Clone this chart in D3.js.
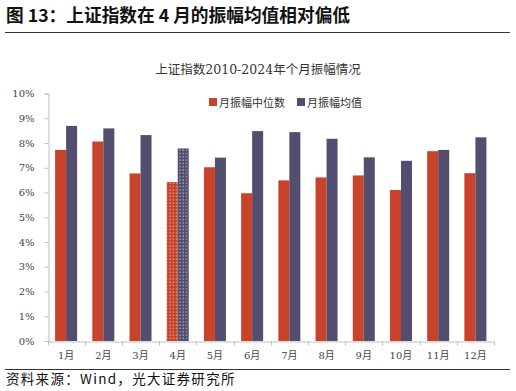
<!DOCTYPE html>
<html><head><meta charset="utf-8">
<script src="https://cdn.jsdelivr.net/npm/d3@7"></script>
<style>
html,body{margin:0;padding:0;background:#fff;}
svg{display:block;}
</style></head>
<body>
<script>
const months = ["1月","2月","3月","4月","5月","6月","7月","8月","9月","10月","11月","12月"];
const medianVals = [7.72, 8.06, 6.77, 6.42, 7.02, 5.97, 6.49, 6.61, 6.69, 6.10, 7.67, 6.78];
const meanVals   = [8.69, 8.59, 8.32, 7.78, 7.41, 8.48, 8.44, 8.17, 7.42, 7.28, 7.72, 8.23];
const seriesNames = ["月振幅中位数","月振幅均值"];
const yTicks = [0,1,2,3,4,5,6,7,8,9,10];
const colors = ["#C8432A","#534E6F"];
const highlightMonth = "4月";

const W=516,H=391;
const svg=d3.select("body").append("svg").attr("width",W).attr("height",H);
const defs=svg.append("defs");
colors.forEach((c,i)=>{
  const p=defs.append("pattern").attr("id","dots"+i).attr("patternUnits","userSpaceOnUse")
    .attr("width",3.3).attr("height",3.3);
  p.append("rect").attr("width",3.3).attr("height",3.3).attr("fill",c);
  p.append("rect").attr("x",1.2).attr("y",1.2).attr("width",1.1).attr("height",1.1).attr("fill","#e8e6ee").attr("opacity",0.85);
});

// Header
svg.append("text").attr("x",6).attr("y",22).text("图 13：上证指数在 4 月的振幅均值相对偏低")
  .attr("font-family","'Noto Sans CJK SC',sans-serif").attr("font-weight","bold").attr("font-size",17.7).attr("fill","#111");
svg.append("line").attr("x1",5).attr("x2",510).attr("y1",32.5).attr("y2",32.5).attr("stroke","#333").attr("stroke-width",1);
svg.append("line").attr("x1",5).attr("x2",510).attr("y1",369.5).attr("y2",369.5).attr("stroke","#333").attr("stroke-width",1);
svg.append("text").attr("x",6).attr("y",384).text("资料来源：Wind，光大证券研究所")
  .attr("font-family","'Noto Sans CJK SC',sans-serif").attr("font-size",13.5).attr("letter-spacing",1.3).attr("fill","#111");

const serif="'DejaVu Serif','Liberation Serif','Noto Sans CJK SC',serif";
svg.append("text").attr("x",258).attr("y",74).attr("text-anchor","middle").text("上证指数2010-2024年个月振幅情况")
  .attr("font-family",serif).attr("font-size",12.5).attr("fill","#333");

const x0=d3.scaleBand().domain(months).range([47.5,494]).paddingInner(0).paddingOuter(0);
const x1=d3.scaleBand().domain([0,1]).range([0,x0.bandwidth()]).paddingInner(0).paddingOuter(0.69);
const y=d3.scaleLinear().domain([0,10]).range([341,93.5]);

// axes
const gy=svg.append("g").attr("transform","translate(48.5,0)")
  .call(d3.axisLeft(y).tickValues(yTicks).tickFormat(d=>d+"%").tickSize(4).tickPadding(10));
gy.select(".domain").attr("stroke","#BFBFBF");
gy.selectAll(".tick line").attr("stroke","#BFBFBF");
gy.selectAll("text").attr("font-family",serif).attr("font-size",10).attr("fill","#444");

const gx=svg.append("g").attr("transform","translate(0,341.5)")
  .call(d3.axisBottom(x0).tickSize(0).tickPadding(10));
gx.select(".domain").attr("stroke","#BFBFBF");
gx.selectAll("text").attr("font-family",serif).attr("font-size",10).attr("fill","#444");
gx.selectAll(".bt").data(months.concat(["end"])).enter().append("line")
  .attr("x1",(d,i)=>Math.round(i<12?x0(d):x0.range()[1])+0.5).attr("x2",(d,i)=>Math.round(i<12?x0(d):x0.range()[1])+0.5)
  .attr("y1",0).attr("y2",4).attr("stroke","#BFBFBF");

// bars
const data=months.map((m,i)=>({m,v:[medianVals[i],meanVals[i]]}));
const g=svg.append("g");
data.forEach(d=>{
  d.v.forEach((v,k)=>{
    g.append("rect").attr("x",x0(d.m)+x1(k)).attr("width",x1.bandwidth())
      .attr("y",y(v)).attr("height",y(0)-y(v))
      .attr("fill",d.m===highlightMonth?`url(#dots${k})`:colors[k]);
  });
});

// legend
const leg=svg.append("g");
const lx=[209,297];
seriesNames.forEach((n,i)=>{
  leg.append("rect").attr("x",lx[i]).attr("y",98).attr("width",8).attr("height",8).attr("fill",colors[i]);
  leg.append("text").attr("x",lx[i]+10).attr("y",106.5).text(n).attr("font-family",serif).attr("font-size",11).attr("fill","#333");
});
</script>
</body></html>
